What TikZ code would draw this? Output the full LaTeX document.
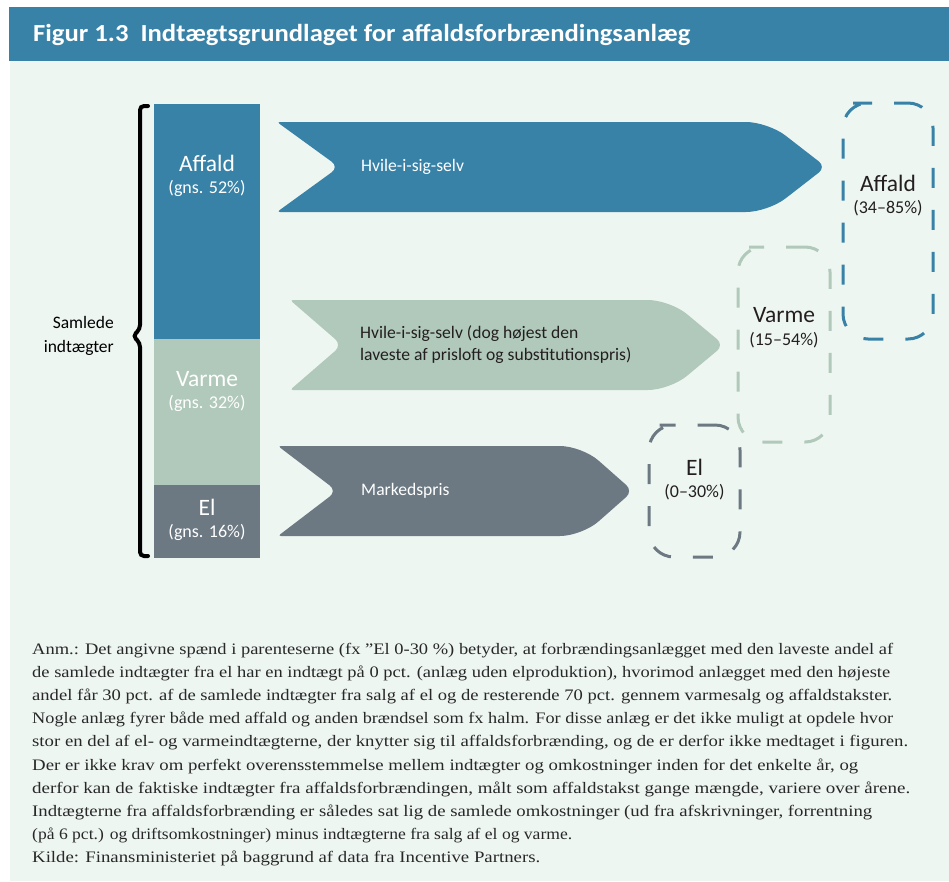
\documentclass[tikz,border=0pt]{standalone}
\usepackage{fontspec}
\usepackage{graphicx}
\setmainfont{Liberation Serif}
\newfontfamily\diagfont{Carlito}
\definecolor{hdrblue}{RGB}{56,130,168}
\definecolor{bgmint}{RGB}{238,246,242}
\definecolor{sage}{RGB}{177,201,187}
\definecolor{slate}{RGB}{108,121,130}
\definecolor{inkdark}{RGB}{35,31,32}
\definecolor{notegray}{RGB}{40,40,40}
\newlength\notelen
\newcommand\fitline[2]{\settowidth{\notelen}{#2}\pgfmathsetmacro\notefac{#1/\notelen}\scalebox{\notefac}[1]{#2}}
\tikzset{
  barseg/.style={inner sep=0pt, outer sep=0pt, minimum width=106pt},
  biglabel/.style={inner sep=0pt, font=\diagfont\fontsize{23.5}{26}\selectfont},
  smalllabel/.style={inner sep=0pt, font=\diagfont\fontsize{18}{20}\selectfont},
  arrowtext/.style={inner sep=0pt, anchor=west, align=left, font=\diagfont\fontsize{17.6}{22}\selectfont},
  dashbox/.style={line width=3pt, rounded corners=25pt, dash pattern=on 20pt off 22pt},
  notetext/.style={inner sep=0pt, anchor=base west, text=notegray, font=\fontsize{16}{20}\selectfont},
}
\begin{document}
\begin{tikzpicture}[x=1pt,y=-1pt]
\useasboundingbox (0,0) rectangle (949,881);
\fill[white] (0,0) rectangle (949,881);
\fill[bgmint] (10,61) rectangle (949,881);
\fill[hdrblue] (9,7) rectangle (949,61);
\node[anchor=west, inner sep=0pt, text=white, font=\diagfont\bfseries\fontsize{24.5}{26}\selectfont] (title) at (33,35) {\fitline{657}{Figur 1.3\hspace{0.45em}Indtægtsgrundlaget for affaldsforbrændingsanlæg}};

% stacked bar
\node[barseg, fill=hdrblue, minimum height=235pt] (segA) at (207,221.5) {};
\node[barseg, fill=sage, minimum height=146pt] (segV) at (207,412) {};
\node[barseg, fill=slate, minimum height=73pt] (segE) at (207,521.5) {};
\node[biglabel, text=white] (lA) at (207,163) {Affald};
\node[smalllabel, text=white] (lA2) at (207,188) {(gns. 52\%)};
\node[biglabel, text=white] (lV) at (207,379) {Varme};
\node[smalllabel, text=white] (lV2) at (207,403) {(gns. 32\%)};
\node[biglabel, text=white] (lE) at (207,507) {El};
\node[smalllabel, text=white] (lE2) at (207,532) {(gns. 16\%)};

% bracket
\draw[line width=4pt, line cap=round, rounded corners=4pt] (148,106) -- (140,106) -- (140,329) -- (133,336) -- (140,343) -- (140,556) -- (148,556);
\node[anchor=east, inner sep=0pt, align=right, font=\diagfont\fontsize{17.5}{24}\selectfont] (total) at (114,336) {Samlede\\indtægter};

% arrows
\fill[hdrblue] (277,122) [rounded corners=9pt] -- (339,167) [rounded corners=3pt] -- (277,212) [rounded corners=22pt] -- (768,212) [rounded corners=9pt] -- (826,167) [rounded corners=22pt] -- (768,122) [rounded corners=3pt] -- cycle;
\node[arrowtext, text=white] (t1) at (361,167) {Hvile-i-sig-selv};

\fill[sage] (290,300) [rounded corners=9pt] -- (342,345) [rounded corners=3pt] -- (290,390) [rounded corners=22pt] -- (670,390) [rounded corners=9pt] -- (724,345) [rounded corners=22pt] -- (670,300) [rounded corners=3pt] -- cycle;
\node[arrowtext, text=inkdark] (t2) at (360,345) {Hvile-i-sig-selv (dog højest den\\laveste af prisloft og substitutionspris)};

\fill[slate] (278,446) [rounded corners=9pt] -- (337,491) [rounded corners=3pt] -- (278,536) [rounded corners=22pt] -- (582,536) [rounded corners=9pt] -- (633,491) [rounded corners=22pt] -- (582,446) [rounded corners=3pt] -- cycle;
\node[arrowtext, text=white] (t3) at (361,491) {Markedspris};

% dashed ranges
\draw[dashbox, draw=hdrblue] (878,103) -- (933,103) -- (933,339) -- (843,339) -- (843,103) -- cycle;
\node[biglabel, text=inkdark] (rA) at (888,183) {Affald};
\node[smalllabel, text=inkdark] (rA2) at (888,208) {(34–85\%)};

\draw[dashbox, draw=sage] (774,247) -- (830,247) -- (830,442) -- (738,442) -- (738,247) -- cycle;
\node[biglabel, text=inkdark] (rV) at (784,315) {Varme};
\node[smalllabel, text=inkdark] (rV2) at (784,340) {(15–54\%)};

\draw[dashbox, draw=slate] (684.5,425) -- (740,425) -- (740,557) -- (649,557) -- (649,425) -- cycle;
\node[biglabel, text=inkdark] (rE) at (694.5,467) {El};
\node[smalllabel, text=inkdark] (rE2) at (694.5,492) {(0–30\%)};

% note
\node[notetext] (n1) at (32,654) {\fitline{861}{Anm.: Det angivne spænd i parenteserne (fx ”El 0-30 \%) betyder, at forbrændingsanlægget med den laveste andel af}};
\node[notetext] (n2) at (32,677.2) {\fitline{858}{de samlede indtægter fra el har en indtægt på 0 pct. (anlæg uden elproduktion), hvorimod anlægget med den højeste}};
\node[notetext] (n3) at (32,700.4) {\fitline{860}{andel får 30 pct. af de samlede indtægter fra salg af el og de resterende 70 pct. gennem varmesalg og affaldstakster.}};
\node[notetext] (n4) at (32,723.6) {\fitline{861}{Nogle anlæg fyrer både med affald og anden brændsel som fx halm. For disse anlæg er det ikke muligt at opdele hvor}};
\node[notetext] (n5) at (32,746.8) {\fitline{876}{stor en del af el- og varmeindtægterne, der knytter sig til affaldsforbrænding, og de er derfor ikke medtaget i figuren.}};
\node[notetext] (n6) at (32,770) {\fitline{826}{Der er ikke krav om perfekt overensstemmelse mellem indtægter og omkostninger inden for det enkelte år, og}};
\node[notetext] (n7) at (32,793.2) {\fitline{878}{derfor kan de faktiske indtægter fra affaldsforbrændingen, målt som affaldstakst gange mængde, variere over årene.}};
\node[notetext] (n8) at (32,816.4) {\fitline{840}{Indtægterne fra affaldsforbrænding er således sat lig de samlede omkostninger (ud fra afskrivninger, forrentning}};
\node[notetext] (n9) at (32,839.6) {\fitline{540}{(på 6 pct.) og driftsomkostninger) minus indtægterne fra salg af el og varme.}};
\node[notetext] (n10) at (32,862.8) {\fitline{508}{Kilde: Finansministeriet på baggrund af data fra Incentive Partners.}};
\end{tikzpicture}
\end{document}
